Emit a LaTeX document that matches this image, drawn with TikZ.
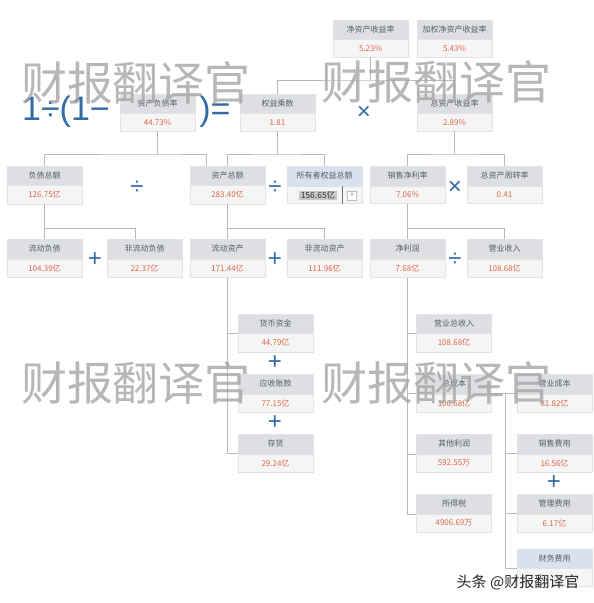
\documentclass[tikz,border=0pt]{standalone}
\usepackage{fontspec}
\setmainfont{Noto Sans CJK SC}
\newfontfamily\opfont{Liberation Sans}
\usetikzlibrary{shapes.multipart,positioning}

\definecolor{hdrfill}{RGB}{221,223,226}
\definecolor{valfill}{RGB}{245,245,246}
\definecolor{bluehdr}{RGB}{216,226,239}
\definecolor{boxline}{RGB}{226,227,230}
\definecolor{hdrtext}{RGB}{88,94,104}
\definecolor{numred}{RGB}{222,104,70}
\definecolor{linkcol}{RGB}{184,184,186}
\definecolor{opblue}{RGB}{52,106,166}
\definecolor{selgray}{RGB}{200,200,200}
\definecolor{wmgray}{RGB}{165,165,165}

\begin{document}
\begin{tikzpicture}[x=1pt, y=-1pt,
    kpi/.style={rectangle split, rectangle split parts=2,
      rectangle split part fill={hdrfill,valfill}, draw=boxline,
      line width=0.5pt, text width=67pt, align=center, inner xsep=4pt,
      inner ysep=5.5pt, text height=6.5pt, text depth=1.5pt, text=hdrtext,
      font=\fontsize{8}{9}\selectfont},
    kpiblue/.style={kpi, rectangle split part fill={bluehdr,valfill}},
    link/.style={draw=linkcol, line width=0.8pt},
    op/.style={text=opblue, inner sep=0pt, font=\opfont\fontsize{24}{24}\selectfont},
    formula/.style={text=opblue, inner sep=0pt, font=\opfont\fontsize{34}{34}\selectfont},
    sel/.style={fill=selgray, text=black!80, inner xsep=2pt, inner ysep=1pt,
      font=\fontsize{8.5}{9}\selectfont},
    btn/.style={draw=black!25, fill=white, text=black!40, minimum size=9pt,
      inner sep=0pt, font=\fontsize{8}{8}\selectfont},
    wm/.style={text=wmgray, text opacity=0.8, inner sep=0pt,
      font=\fontsize{46}{46}\selectfont},
    credit/.style={text=black!85, inner sep=0pt, font=\fontsize{15}{15}\selectfont}
  ]
  \fill[white] (0,0) rectangle (594,603);
  \useasboundingbox (0,0) rectangle (594,603);

  % Return on equity
  \node[kpi] (roe) at (370.5,38.5) {净资产收益率\nodepart{two}\color{numred}5.23\%};
  \node[kpi] (wroe) at (454.5,38.5) {加权净资产收益率\nodepart{two}\color{numred}5.43\%};

  % First level
  \node[kpi] (debtratio) at (157.5,112.5) {资产负债率\nodepart{two}\color{numred}44.73\%};
  \node[kpi] (eqmult) at (277.5,112.5) {权益乘数\nodepart{two}\color{numred}1.81};
  \node[kpi] (roa) at (454.5,112.5) {总资产收益率\nodepart{two}\color{numred}2.89\%};
  \node[formula] (fpre) at (66,112) {1÷(1−};
  \node[formula] (fpost) at (215,112) {)=};
  \node[op] (mul1) at (364,113) {×};

  % Second level
  \node[kpi] (totdebt) at (44.5,185) {负债总额\nodepart{two}\color{numred}126.75亿};
  \node[kpi] (totasset) at (227.5,185) {资产总额\nodepart{two}\color{numred}283.40亿};
  \node[kpiblue] (owner) at (324.5,185) {所有者权益总额\nodepart{two}\phantom{0}};
  \node[kpi] (npm) at (407.5,185) {销售净利率\nodepart{two}\color{numred}7.06\%};
  \node[kpi] (turnover) at (504.5,185) {总资产周转率\nodepart{two}\color{numred}0.41};
  \node[sel] (ownersel) at (318,195.5) {156.65亿};
  \node[btn] (ownerbtn) at (352,195.5) {+};
  \draw[black!55, line width=1.3pt] ([xshift=-5pt]ownerbtn.west |- owner.text split)
    -- ([xshift=-5pt]ownerbtn.west |- owner.south);
  \node[op] (div1) at (137,188) {÷};
  \node[op] (div2) at (275,188) {÷};
  \node[op] (mul2) at (455,188) {×};

  % Third level
  \node[kpi] (curdebt) at (44.5,258.5) {流动负债\nodepart{two}\color{numred}104.39亿};
  \node[kpi] (ncurdebt) at (144.5,258.5) {非流动负债\nodepart{two}\color{numred}22.37亿};
  \node[kpi] (curasset) at (227.5,258.5) {流动资产\nodepart{two}\color{numred}171.44亿};
  \node[kpi] (ncurasset) at (324.5,258.5) {非流动资产\nodepart{two}\color{numred}111.96亿};
  \node[kpi] (netprofit) at (407.5,258.5) {净利润\nodepart{two}\color{numred}7.68亿};
  \node[kpi] (revenue) at (504.5,258.5) {营业收入\nodepart{two}\color{numred}108.68亿};
  \node[op] (add1) at (95,260) {+};
  \node[op] (add2) at (275,260) {+};
  \node[op] (div3) at (455,260) {÷};

  % Current assets breakdown
  \node[kpi] (cash) at (275.5,333) {货币资金\nodepart{two}\color{numred}44.79亿};
  \node[kpi] (receivable) at (275.5,393.5) {应收账款\nodepart{two}\color{numred}77.15亿};
  \node[kpi] (inventory) at (275.5,453.5) {存货\nodepart{two}\color{numred}29.24亿};
  \node[op] (add3) at (275,363) {+};
  \node[op] (add4) at (275,423) {+};

  % Net profit breakdown
  \node[kpi] (totrev) at (454,333) {营业总收入\nodepart{two}\color{numred}108.68亿};
  \node[kpi] (totcost) at (454,393.5) {总成本\nodepart{two}\color{numred}106.68亿};
  \node[kpi] (otherprofit) at (454,453.5) {其他利润\nodepart{two}\color{numred}592.55万};
  \node[kpi] (tax) at (454,513.5) {所得税\nodepart{two}\color{numred}4906.69万};

  % Cost breakdown
  \node[kpi] (opcost) at (554.5,393.5) {营业成本\nodepart{two}\color{numred}81.82亿};
  \node[kpi] (salesexp) at (554.5,453.5) {销售费用\nodepart{two}\color{numred}16.56亿};
  \node[kpi] (adminexp) at (554.5,513.5) {管理费用\nodepart{two}\color{numred}6.17亿};
  \node[kpiblue] (finexp) at (554.5,567.5) {财务费用\nodepart{two}\phantom{0}};
  \node[op] (add5) at (554,483) {+};

  % connectors
  \coordinate (t0) at (370.5,80);
  \draw[link] (roe.south) -- (t0);
  \draw[link] (eqmult.north) |- (t0) -| (roa.north);
  \coordinate (t1) at (157.5,154);
  \draw[link] (debtratio.south) -- (t1);
  \draw[link] (totdebt.north) |- (t1) -| ([xshift=-21pt]totasset.north);
  \coordinate (t2) at (277.5,154);
  \draw[link] (eqmult.south) -- (t2);
  \draw[link] (totasset.north) |- (t2) -| (owner.north);
  \coordinate (t3) at (454.5,154);
  \draw[link] (roa.south) -- (t3);
  \draw[link] (npm.north) |- (t3) -| (turnover.north);

  \coordinate (t4) at (44.5,228);
  \draw[link] (totdebt.south) -- (curdebt.north);
  \draw[link] (t4) -| ([xshift=-9pt]ncurdebt.north);
  \coordinate (t5) at (227.5,228);
  \draw[link] (totasset.south) -- (curasset.north);
  \draw[link] (t5) -| (ncurasset.north);
  \coordinate (t6) at (407.5,228);
  \draw[link] (npm.south) -- (netprofit.north);
  \draw[link] (t6) -| (revenue.north);

  \draw[link] (curasset.south) |- (inventory.text split west);
  \draw[link] (cash.text split west) -- (cash.text split west -| curasset.south);

  \draw[link] (netprofit.south) |- (tax.text split west);
  \draw[link] (totrev.text split west) -- (totrev.text split west -| netprofit.south);
  \draw[link] (totcost.text split west) -- (totcost.text split west -| netprofit.south);
  \draw[link] (otherprofit.text split west) -- (otherprofit.text split west -| netprofit.south);

  \coordinate (t7) at (505,393.5);
  \draw[link] (totcost.text split east) -- (opcost.text split west);
  \draw[link] (t7) |- (finexp.text split west);
  \draw[link] (t7 |- salesexp.text split west) -- (salesexp.text split west);
  \draw[link] (t7 |- adminexp.text split west) -- (adminexp.text split west);

  % watermarks
  \node[wm] (wm1) at (136,83) {财报翻译官};
  \node[wm] (wm2) at (436,82) {财报翻译官};
  \node[wm] (wm3) at (136,383) {财报翻译官};
  \node[wm] (wm4) at (436,383) {财报翻译官};
  \node[credit] (credit) at (518,582) {头条 @财报翻译官};
\end{tikzpicture}
\end{document}
